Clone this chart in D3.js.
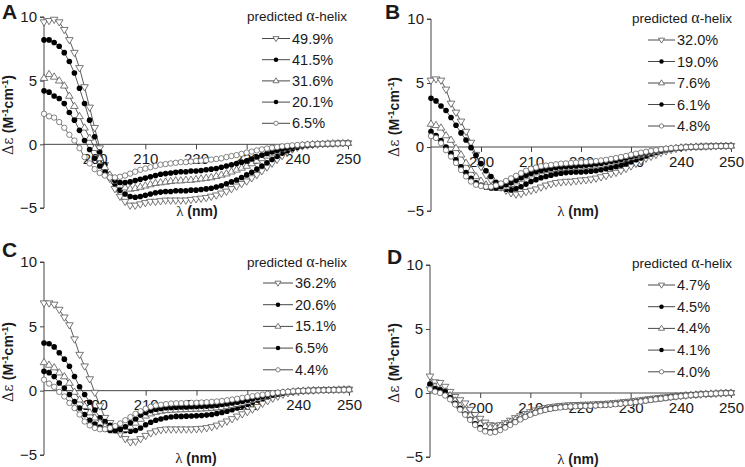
<!DOCTYPE html>
<html><head><meta charset="utf-8">
<script src="https://cdn.jsdelivr.net/npm/d3@7"></script>
<style>
html,body{margin:0;padding:0;background:#fff;}
svg{display:block;}
text{font-family:"Liberation Sans",Arial,sans-serif;fill:#1a1a1a;}
</style></head>
<body>
<svg id="chart" width="745" height="467"></svg>
<script>
// wavelengths (nm)
const wavelength = [
190,191,192,193,194,195,196,197,198,199,
200,201,202,203,204,205,206,207,208,209,
210,211,212,213,214,215,216,217,218,219,
220,221,222,223,224,225,226,227,228,229,
230,231,232,233,234,235,236,237,238,239,
240,241,242,243,244,245,246,247,248,249,
250];
const xTicks = [200,210,220,230,240,250];
const yTicks = [-5,0,5,10];
const legendTitle = "predicted";
const panelLetters = ["A","B","C","D"];

// Panel A
const labelsA = ["49.9%","41.5%","31.6%","20.1%","6.5%"];
const A1 = [9.6,9.7,9.8,9.6,9.0,8.2,7.2,6.0,4.5,2.9,
 1.3,-0.3,-1.6,-2.7,-3.5,-4.1,-4.5,-4.8,-4.8,-4.7,
 -4.6,-4.5,-4.5,-4.45,-4.4,-4.4,-4.4,-4.4,-4.4,-4.35,
 -4.3,-4.25,-4.2,-4.1,-4.0,-3.85,-3.7,-3.5,-3.3,-3.1,
 -2.9,-2.65,-2.4,-2.1,-1.8,-1.5,-1.2,-0.9,-0.6,-0.4,
 -0.25,-0.15,-0.08,-0.03,0.0,0.03,0.05,0.07,0.08,0.1,
 0.1];
const A2 = [8.2,8.2,8.0,7.7,7.2,6.5,5.6,4.4,3.2,1.9,
 0.6,-0.6,-1.6,-2.5,-3.1,-3.6,-3.9,-4.1,-4.15,-4.1,
 -4.0,-3.9,-3.8,-3.75,-3.7,-3.7,-3.65,-3.65,-3.65,-3.6,
 -3.6,-3.55,-3.5,-3.45,-3.35,-3.25,-3.1,-2.95,-2.8,-2.6,
 -2.4,-2.2,-1.95,-1.7,-1.45,-1.2,-0.95,-0.7,-0.5,-0.35,
 -0.22,-0.13,-0.07,-0.02,0.0,0.03,0.05,0.06,0.08,0.09,
 0.1];
const A3 = [5.2,5.5,5.3,5.0,4.6,3.8,3.0,2.2,1.3,0.5,
 -0.3,-1.1,-1.8,-2.4,-2.9,-3.2,-3.4,-3.5,-3.45,-3.35,
 -3.25,-3.15,-3.05,-3.0,-2.95,-2.9,-2.85,-2.85,-2.8,-2.8,
 -2.75,-2.7,-2.65,-2.6,-2.5,-2.4,-2.3,-2.15,-2.0,-1.85,
 -1.7,-1.5,-1.3,-1.1,-0.9,-0.72,-0.55,-0.4,-0.3,-0.2,
 -0.13,-0.08,-0.04,-0.01,0.01,0.03,0.05,0.06,0.07,0.08,
 0.09];
const A4 = [4.2,4.1,3.8,3.6,3.2,2.5,1.9,1.1,0.3,-0.4,
 -1.1,-1.7,-2.2,-2.6,-2.85,-3.0,-3.0,-2.95,-2.85,-2.75,
 -2.65,-2.55,-2.45,-2.35,-2.3,-2.25,-2.2,-2.15,-2.15,-2.1,
 -2.1,-2.05,-2.0,-1.95,-1.9,-1.8,-1.7,-1.6,-1.5,-1.4,
 -1.3,-1.15,-1.0,-0.85,-0.72,-0.6,-0.48,-0.37,-0.28,-0.2,
 -0.13,-0.08,-0.04,-0.01,0.01,0.03,0.04,0.05,0.06,0.07,
 0.08];
const A5 = [2.4,2.2,2.1,1.75,1.3,0.75,0.3,-0.3,-1.0,-1.5,
 -1.95,-2.25,-2.45,-2.6,-2.6,-2.55,-2.45,-2.3,-2.15,-2.0,
 -1.9,-1.8,-1.7,-1.6,-1.55,-1.5,-1.45,-1.4,-1.4,-1.35,
 -1.3,-1.28,-1.25,-1.2,-1.15,-1.1,-1.0,-0.92,-0.85,-0.75,
 -0.65,-0.57,-0.48,-0.4,-0.33,-0.27,-0.21,-0.16,-0.12,-0.08,
 -0.05,-0.02,0.0,0.02,0.03,0.04,0.05,0.06,0.07,0.08,
 0.08];

// Panel B
const labelsB = ["32.0%","19.0%","7.6%","6.1%","4.8%"];
const B1 = [5.2,5.3,5.2,4.5,3.4,2.7,2.0,1.2,0.35,-0.6,
 -1.55,-2.2,-2.6,-2.9,-3.15,-3.4,-3.6,-3.7,-3.65,-3.5,
 -3.4,-3.3,-3.15,-3.0,-2.9,-2.8,-2.75,-2.7,-2.7,-2.65,
 -2.6,-2.58,-2.52,-2.45,-2.35,-2.25,-2.1,-2.0,-1.85,-1.7,
 -1.5,-1.3,-1.1,-0.9,-0.75,-0.6,-0.45,-0.32,-0.22,-0.13,
 -0.07,-0.03,0.0,0.02,0.04,0.05,0.06,0.07,0.08,0.09,
 0.1];
const B2 = [3.8,3.6,3.2,2.85,2.3,1.7,1.1,0.55,-0.05,-0.65,
 -1.3,-1.85,-2.3,-2.75,-3.05,-3.3,-3.35,-3.25,-3.1,-2.9,
 -2.7,-2.55,-2.4,-2.3,-2.2,-2.1,-2.05,-2.0,-1.98,-1.95,
 -1.95,-1.92,-1.9,-1.85,-1.78,-1.7,-1.62,-1.52,-1.42,-1.3,
 -1.15,-1.0,-0.85,-0.7,-0.55,-0.42,-0.31,-0.22,-0.15,-0.09,
 -0.05,-0.02,0.0,0.02,0.04,0.05,0.06,0.07,0.08,0.09,
 0.1];
const B3 = [1.8,1.7,1.5,0.9,0.55,-0.1,-0.6,-1.25,-1.8,-2.3,
 -2.65,-2.95,-3.1,-3.2,-3.2,-3.1,-2.9,-2.7,-2.5,-2.3,
 -2.15,-2.0,-1.9,-1.82,-1.75,-1.7,-1.66,-1.62,-1.6,-1.57,
 -1.55,-1.52,-1.5,-1.45,-1.38,-1.3,-1.22,-1.12,-1.02,-0.92,
 -0.82,-0.72,-0.62,-0.52,-0.43,-0.35,-0.27,-0.2,-0.14,-0.09,
 -0.05,-0.02,0.0,0.02,0.03,0.04,0.05,0.06,0.07,0.08,
 0.09];
const B4 = [1.2,0.9,0.5,0.0,-0.5,-1.0,-1.55,-2.0,-2.45,-2.8,
 -3.0,-3.15,-3.2,-3.2,-3.1,-2.95,-2.8,-2.6,-2.4,-2.2,
 -2.05,-1.92,-1.82,-1.73,-1.66,-1.6,-1.56,-1.53,-1.5,-1.48,
 -1.45,-1.42,-1.38,-1.33,-1.27,-1.2,-1.12,-1.04,-0.95,-0.85,
 -0.75,-0.65,-0.55,-0.46,-0.38,-0.3,-0.23,-0.17,-0.12,-0.08,
 -0.05,-0.02,0.0,0.02,0.03,0.04,0.05,0.06,0.07,0.08,
 0.09];
const B5 = [0.85,0.7,0.3,-0.25,-0.75,-1.25,-1.8,-2.3,-2.7,-2.95,
 -3.05,-3.1,-3.1,-3.0,-2.85,-2.65,-2.45,-2.25,-2.05,-1.85,
 -1.7,-1.6,-1.5,-1.45,-1.4,-1.35,-1.3,-1.28,-1.25,-1.22,
 -1.2,-1.17,-1.14,-1.1,-1.05,-1.0,-0.93,-0.86,-0.78,-0.7,
 -0.6,-0.52,-0.44,-0.37,-0.3,-0.24,-0.18,-0.13,-0.09,-0.06,
 -0.03,-0.01,0.01,0.02,0.03,0.04,0.05,0.06,0.07,0.07,
 0.08];

// Panel C
const labelsC = ["36.2%","20.6%","15.1%","6.5%","4.4%"];
const C1 = [6.8,6.8,6.7,6.3,5.7,5.1,4.0,2.8,1.9,0.9,
 -0.15,-1.2,-2.1,-2.5,-2.9,-3.35,-3.75,-4.0,-3.95,-3.75,
 -3.5,-3.3,-3.15,-3.05,-3.0,-3.0,-3.0,-3.0,-3.0,-3.0,
 -2.98,-2.95,-2.9,-2.82,-2.7,-2.55,-2.38,-2.2,-2.0,-1.82,
 -1.65,-1.45,-1.25,-1.0,-0.8,-0.6,-0.45,-0.3,-0.18,-0.1,
 -0.05,-0.02,0.0,0.02,0.04,0.05,0.06,0.07,0.08,0.09,
 0.1];
const C2 = [3.7,3.65,3.4,2.95,2.45,1.9,1.1,0.3,-0.3,-0.9,
 -1.5,-2.1,-2.4,-2.7,-2.9,-3.0,-3.1,-3.15,-3.1,-2.9,
 -2.65,-2.45,-2.3,-2.2,-2.1,-2.05,-2.0,-2.0,-1.98,-1.97,
 -1.95,-1.93,-1.9,-1.85,-1.78,-1.7,-1.6,-1.48,-1.35,-1.2,
 -1.05,-0.9,-0.75,-0.6,-0.47,-0.36,-0.27,-0.19,-0.12,-0.07,
 -0.03,0.0,0.02,0.03,0.04,0.05,0.06,0.07,0.08,0.09,
 0.1];
const C3 = [2.2,2.0,1.8,1.4,1.1,0.6,-0.1,-0.7,-1.2,-1.7,
 -2.1,-2.5,-2.8,-3.0,-3.1,-3.1,-3.0,-2.8,-2.5,-2.2,
 -1.95,-1.78,-1.66,-1.58,-1.53,-1.5,-1.48,-1.46,-1.45,-1.43,
 -1.42,-1.4,-1.38,-1.35,-1.32,-1.28,-1.22,-1.14,-1.05,-0.95,
 -0.85,-0.74,-0.62,-0.5,-0.4,-0.31,-0.23,-0.16,-0.11,-0.07,
 -0.04,-0.01,0.01,0.02,0.03,0.04,0.05,0.06,0.07,0.08,
 0.09];
const C4 = [1.5,1.4,1.1,0.6,0.2,-0.3,-0.85,-1.35,-1.85,-2.3,
 -2.6,-2.85,-3.0,-3.1,-3.1,-3.0,-2.8,-2.5,-2.2,-1.9,
 -1.7,-1.55,-1.45,-1.38,-1.33,-1.3,-1.28,-1.27,-1.26,-1.25,
 -1.24,-1.22,-1.2,-1.17,-1.13,-1.08,-1.02,-0.96,-0.9,-0.82,
 -0.74,-0.64,-0.54,-0.45,-0.36,-0.28,-0.21,-0.15,-0.1,-0.06,
 -0.03,-0.01,0.01,0.02,0.03,0.04,0.05,0.06,0.07,0.08,
 0.08];
const C5 = [0.85,0.55,0.3,-0.1,-0.45,-0.95,-1.35,-1.85,-2.4,-2.7,
 -2.9,-3.0,-3.0,-2.9,-2.75,-2.55,-2.3,-2.05,-1.8,-1.6,
 -1.4,-1.25,-1.15,-1.1,-1.05,-1.0,-0.98,-0.97,-0.96,-0.95,
 -0.94,-0.92,-0.9,-0.87,-0.84,-0.8,-0.75,-0.69,-0.63,-0.56,
 -0.5,-0.43,-0.37,-0.31,-0.25,-0.2,-0.15,-0.11,-0.08,-0.05,
 -0.03,-0.01,0.01,0.02,0.03,0.04,0.05,0.06,0.06,0.07,
 0.08];

// Panel D
const labelsD = ["4.7%","4.5%","4.4%","4.1%","4.0%"];
const D1 = [1.3,0.85,0.8,0.5,0.1,-0.3,-0.55,-0.8,-1.3,-1.7,
 -2.0,-2.3,-2.5,-2.55,-2.5,-2.35,-2.15,-1.95,-1.8,-1.62,
 -1.48,-1.35,-1.25,-1.17,-1.1,-1.05,-1.0,-0.97,-0.95,-0.93,
 -0.92,-0.91,-0.9,-0.88,-0.86,-0.84,-0.81,-0.78,-0.74,-0.7,
 -0.66,-0.61,-0.56,-0.51,-0.46,-0.41,-0.37,-0.33,-0.29,-0.25,
 -0.22,-0.19,-0.16,-0.13,-0.1,-0.08,-0.06,-0.04,-0.02,0.0,
 0.02];
const D2 = [0.6,0.3,0.2,0.1,-0.3,-0.7,-1.1,-1.5,-1.9,-2.3,
 -2.6,-2.85,-3.0,-2.95,-2.8,-2.6,-2.4,-2.2,-2.0,-1.8,
 -1.65,-1.5,-1.38,-1.28,-1.2,-1.15,-1.1,-1.07,-1.05,-1.02,
 -1.0,-0.99,-0.98,-0.96,-0.94,-0.92,-0.89,-0.86,-0.82,-0.78,
 -0.74,-0.69,-0.64,-0.58,-0.53,-0.47,-0.42,-0.37,-0.32,-0.27,
 -0.23,-0.19,-0.16,-0.13,-0.1,-0.08,-0.06,-0.04,-0.02,-0.01,
 0.01];
const D3 = [0.6,0.5,0.3,0.1,-0.2,-0.6,-1.0,-1.35,-1.75,-2.1,
 -2.4,-2.6,-2.7,-2.7,-2.6,-2.45,-2.28,-2.1,-1.92,-1.75,
 -1.6,-1.47,-1.36,-1.27,-1.2,-1.14,-1.1,-1.06,-1.03,-1.01,
 -0.99,-0.98,-0.96,-0.94,-0.92,-0.9,-0.87,-0.84,-0.8,-0.76,
 -0.72,-0.67,-0.62,-0.57,-0.52,-0.47,-0.42,-0.37,-0.32,-0.27,
 -0.23,-0.19,-0.16,-0.13,-0.1,-0.08,-0.06,-0.04,-0.02,0.0,
 0.01];
const D4 = [0.7,0.35,0.25,0.1,-0.35,-0.8,-1.2,-1.65,-2.05,-2.4,
 -2.7,-2.95,-3.05,-3.0,-2.85,-2.65,-2.45,-2.25,-2.05,-1.85,
 -1.68,-1.53,-1.4,-1.3,-1.22,-1.16,-1.12,-1.08,-1.05,-1.03,
 -1.01,-1.0,-0.99,-0.97,-0.95,-0.93,-0.9,-0.87,-0.83,-0.79,
 -0.75,-0.7,-0.65,-0.59,-0.54,-0.48,-0.43,-0.38,-0.33,-0.28,
 -0.24,-0.2,-0.16,-0.13,-0.1,-0.08,-0.06,-0.04,-0.02,-0.01,
 0.01];
const D5 = [0.3,0.1,0.0,-0.2,-0.5,-0.9,-1.3,-1.7,-2.1,-2.5,
 -2.8,-3.0,-3.1,-3.05,-2.9,-2.7,-2.5,-2.28,-2.07,-1.87,
 -1.7,-1.55,-1.42,-1.32,-1.24,-1.18,-1.13,-1.09,-1.06,-1.04,
 -1.02,-1.01,-1.0,-0.98,-0.96,-0.94,-0.91,-0.88,-0.84,-0.8,
 -0.76,-0.71,-0.66,-0.6,-0.55,-0.49,-0.44,-0.39,-0.34,-0.29,
 -0.25,-0.21,-0.17,-0.14,-0.11,-0.08,-0.06,-0.04,-0.02,-0.01,
 0.01];

const markerTypes = ["down","dot","up","dot","circle"];

const panels = [
  {letter:panelLetters[0], series:[A1,A2,A3,A4,A5], labels:labelsA,
   x0:44, x1:348, yT:17, yB:208, lx:8, lyC:115, xlx:197, xly:216,
   letX:2, letY:19, legLine:[262,290], legTitleR:347, legTitleY:21, legY0:38.5, legStep:21.2},
  {letter:panelLetters[1], series:[B1,B2,B3,B4,B5], labels:labelsB,
   x0:431, x1:731, yT:19, yB:211, lx:394, lyC:117, xlx:578, xly:216,
   letX:385, letY:19, legLine:[648,675], legTitleR:732, legTitleY:23, legY0:40, legStep:21.5},
  {letter:panelLetters[2], series:[C1,C2,C3,C4,C5], labels:labelsC,
   x0:44, x1:349, yT:262, yB:455, lx:8, lyC:362, xlx:196, xly:463,
   letX:2, letY:257, legLine:[263,293], legTitleR:347, legTitleY:267, legY0:283, legStep:21.7},
  {letter:panelLetters[3], series:[D1,D2,D3,D4,D5], labels:labelsD,
   x0:430, x1:731, yT:265, yB:457, lx:394, lyC:363, xlx:578, xly:464,
   letX:387, letY:264, legLine:[648,675], legTitleR:732, legTitleY:268, legY0:285, legStep:21.7}
];

const svg = d3.select("#chart");

function drawMarker(g, type, x, y, s) {
  const k = s || 1;
  if (type === "down") {
    const w = 3.8*k, h = 3.3*k;
    g.append("path").attr("d", `M${x-w},${y-h*0.7}L${x+w},${y-h*0.7}L${x},${y+h*1.2}Z`)
      .attr("fill","#fff").attr("stroke","#555").attr("stroke-width",0.8);
  } else if (type === "up") {
    const w = 3.8*k, h = 3.3*k;
    g.append("path").attr("d", `M${x-w},${y+h*0.7}L${x+w},${y+h*0.7}L${x},${y-h*1.2}Z`)
      .attr("fill","#fff").attr("stroke","#555").attr("stroke-width",0.8);
  } else if (type === "dot") {
    g.append("circle").attr("cx",x).attr("cy",y).attr("r",2.8*k).attr("fill","#000");
  } else {
    g.append("circle").attr("cx",x).attr("cy",y).attr("r",2.7*k)
      .attr("fill","#fff").attr("stroke","#666").attr("stroke-width",0.8);
  }
}

panels.forEach(p => {
  const x = d3.scaleLinear().domain([190,250]).range([p.x0,p.x1]);
  const y = d3.scaleLinear().domain([-5,10]).range([p.yB,p.yT]);
  const g = svg.append("g");

  // y axis
  const ya = g.append("g").attr("transform",`translate(${p.x0},0)`)
    .call(d3.axisLeft(y).tickValues(yTicks).tickSize(4).tickPadding(3).tickFormat(d3.format("d")));
  ya.select(".domain").attr("stroke","#444").attr("d",`M-4,${y(10)}H0V${y(-5)}H-4`);
  ya.selectAll(".tick line").attr("stroke","#444");
  ya.selectAll("text").attr("font-size",15).attr("fill","#222")
    .attr("font-family",'"Liberation Sans",Arial,sans-serif');

  // x axis at zero
  const xa = g.append("g").attr("transform",`translate(0,${y(0)})`)
    .call(d3.axisBottom(x).tickValues(xTicks).tickSize(5).tickPadding(4).tickFormat(d3.format("d")));
  xa.select(".domain").attr("stroke","#444").attr("d",`M${p.x0},0H${p.x1}`);
  xa.selectAll(".tick line").attr("stroke","#444");
  xa.selectAll("text").attr("font-size",15).attr("fill","#222")
    .attr("font-family",'"Liberation Sans",Arial,sans-serif');

  // y label
  const yl = g.append("text").attr("transform",`translate(${p.lx+5},${p.lyC}) rotate(-90)`)
    .attr("text-anchor","middle").attr("font-size",14);
  yl.append("tspan").attr("font-family",'"DejaVu Serif","Liberation Serif",serif').attr("font-size",14).text("Δε ");
  yl.append("tspan").attr("font-weight","bold").text("(M");
  yl.append("tspan").attr("font-weight","bold").attr("font-size",9.5).attr("dy",-5).text("-1");
  yl.append("tspan").attr("font-weight","bold").attr("dy",5).text("cm");
  yl.append("tspan").attr("font-weight","bold").attr("font-size",9.5).attr("dy",-5).text("-1");
  yl.append("tspan").attr("font-weight","bold").attr("dy",5).text(")");

  // x label
  const xl = g.append("text").attr("x",p.xlx).attr("y",p.xly).attr("text-anchor","middle").attr("font-size",14);
  xl.append("tspan").attr("font-family",'"Liberation Serif","DejaVu Serif",serif').attr("font-size",15).text("λ ");
  xl.append("tspan").attr("font-weight","bold").text("(nm)");

  // panel letter
  g.append("text").attr("x",p.letX).attr("y",p.letY).attr("font-size",21).attr("font-weight","bold")
    .attr("fill","#000").text(p.letter);

  // data
  const line = d3.line().x((d,i)=>x(wavelength[i])).y(d=>y(d));
  p.series.forEach((s,si) => {
    g.append("path").datum(s).attr("d",line).attr("fill","none").attr("stroke","#333").attr("stroke-width",0.8);
  });
  p.series.forEach((s,si) => {
    const mg = g.append("g");
    s.forEach((v,i) => drawMarker(mg, markerTypes[si], x(wavelength[i]), y(v)));
  });

  // legend
  const lt = g.append("text").attr("x",p.legTitleR).attr("y",p.legTitleY).attr("text-anchor","end").attr("font-size",13.5);
  lt.append("tspan").text(legendTitle + "  ");
  lt.append("tspan").attr("font-family",'"Liberation Serif","DejaVu Serif",serif').attr("font-size",16).text("α");
  lt.append("tspan").text("-helix");
  p.labels.forEach((lab,i) => {
    const ly = p.legY0 + i*p.legStep;
    g.append("line").attr("x1",p.legLine[0]).attr("x2",p.legLine[1]).attr("y1",ly).attr("y2",ly)
      .attr("stroke","#333").attr("stroke-width",0.9);
    drawMarker(g, markerTypes[i], (p.legLine[0]+p.legLine[1])/2, ly, 0.8);
    g.append("text").attr("x",p.legLine[1]+2).attr("y",ly+5).attr("font-size",14.5).text(lab);
  });
});
</script>
</body></html>
